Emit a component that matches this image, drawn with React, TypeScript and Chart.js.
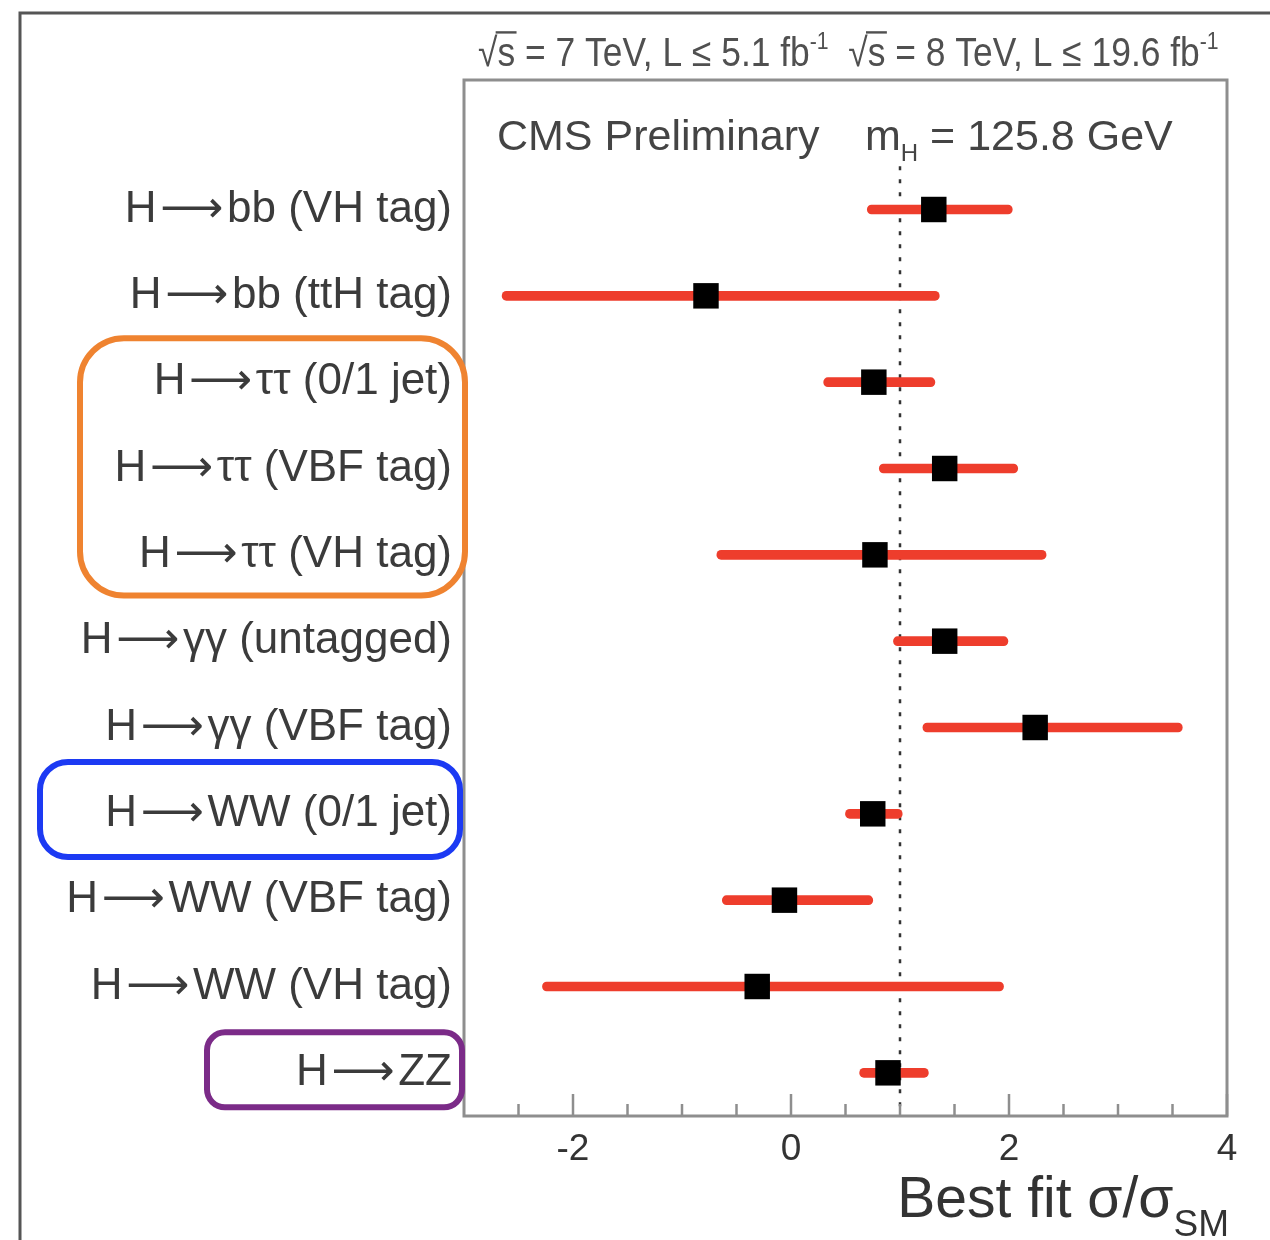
import React, { useEffect, useRef } from 'react';
import { Chart, registerables } from 'chart.js';

Chart.register(...registerables);

// ---------- data ----------
const CATEGORIES = [
  'H\u200A⟶\u200Abb (VH tag)',
  'H\u200A⟶\u200Abb (ttH tag)',
  'H\u200A⟶\u200Aττ (0/1 jet)',
  'H\u200A⟶\u200Aττ (VBF tag)',
  'H\u200A⟶\u200Aττ (VH tag)',
  'H\u200A⟶\u200Aγγ (untagged)',
  'H\u200A⟶\u200Aγγ (VBF tag)',
  'H\u200A⟶\u200AWW (0/1 jet)',
  'H\u200A⟶\u200AWW (VBF tag)',
  'H\u200A⟶\u200AWW (VH tag)',
  'H\u200A⟶\u200AZZ',
];
const BEST_FIT = [1.31, -0.78, 0.76, 1.41, 0.77, 1.41, 2.24, 0.75, -0.06, -0.31, 0.89];
const ERR_LOW = [0.7, -2.65, 0.3, 0.81, -0.68, 0.94, 1.21, 0.5, -0.63, -2.28, 0.63];
const ERR_HIGH = [2.03, 1.36, 1.32, 2.08, 2.34, 1.99, 3.59, 1.02, 0.75, 1.95, 1.26];
const SM_REFERENCE = 1;
const X_MIN = -3;
const X_MAX = 4;
const X_LABELED_TICKS = [-2, 0, 2, 4];
const X_MINOR_TICKS = [-2.5, -1.5, -1, -0.5, 0.5, 1, 1.5, 2.5, 3, 3.5];

// highlighted groups of rows (first row index, last row index)
const HIGHLIGHT_ROWS = [
  [2, 4],
  [7, 7],
  [10, 10],
];

// ---------- styles ----------
const FONT = "'Liberation Sans', 'DejaVu Sans', Arial, Helvetica, sans-serif";
const TEXT_COLOR = '#3b3b3b';
const BAR_COLOR = '#ee3d2c';
const HIGHLIGHT_STYLE = [
  { color: '#ef8330', left: 80, right: 465, padTop: 0.51, padBottom: 0.47, radius: 44 },
  { color: '#1c3af3', left: 40, right: 460, padTop: 0.6, padBottom: 0.5, radius: 28 },
  { color: '#7b2b88', left: 207, right: 462, padTop: 0.47, padBottom: 0.4, radius: 18 },
];

type Seg = { t: string; size: number; dy?: number; over?: boolean };

function drawRich(
  ctx: CanvasRenderingContext2D,
  x: number,
  y: number,
  segs: Seg[],
  align: 'left' | 'right'
) {
  const widths = segs.map((s) => {
    ctx.font = `${s.size}px ${FONT}`;
    return ctx.measureText(s.t).width;
  });
  const total = widths.reduce((a, b) => a + b, 0);
  let cx = align === 'right' ? x - total : x;
  ctx.textAlign = 'left';
  ctx.textBaseline = 'alphabetic';
  segs.forEach((s, i) => {
    ctx.font = `${s.size}px ${FONT}`;
    ctx.fillText(s.t, cx, y + (s.dy || 0));
    if (s.over) {
      ctx.save();
      ctx.lineWidth = s.size * 0.06;
      ctx.strokeStyle = ctx.fillStyle as string;
      ctx.beginPath();
      ctx.moveTo(cx - s.size * 0.05, y - s.size * 0.84);
      ctx.lineTo(cx + widths[i] + s.size * 0.04, y - s.size * 0.84);
      ctx.stroke();
      ctx.restore();
    }
    cx += widths[i];
  });
}

const decorPlugin = {
  id: 'decor',
  afterDraw(chart: any) {
    const { ctx, chartArea: a, scales } = chart;
    const xs = scales.x;
    const ys = scales.y;
    ctx.save();

    // outer frame (top and left edges)
    ctx.strokeStyle = '#555555';
    ctx.lineWidth = 3;
    ctx.beginPath();
    ctx.moveTo(20, chart.height);
    ctx.lineTo(20, 13);
    ctx.lineTo(chart.width, 13);
    ctx.stroke();

    // plot frame
    ctx.strokeStyle = '#8e8e8e';
    ctx.lineWidth = 3;
    ctx.strokeRect(a.left, a.top, a.right - a.left, a.bottom - a.top);

    // inward ticks on the x axis
    ctx.lineWidth = 2.5;
    const tick = (v: number, len: number) => {
      const px = xs.getPixelForValue(v);
      ctx.beginPath();
      ctx.moveTo(px, a.bottom);
      ctx.lineTo(px, a.bottom - len);
      ctx.stroke();
    };
    X_LABELED_TICKS.forEach((v) => tick(v, 22));
    X_MINOR_TICKS.forEach((v) => tick(v, 12));

    // highlight boxes
    HIGHLIGHT_ROWS.forEach(([r0, r1], i) => {
      const st = HIGHLIGHT_STYLE[i];
      const top = ys.getPixelForValue(r0 - st.padTop);
      const bottom = ys.getPixelForValue(r1 + st.padBottom);
      ctx.strokeStyle = st.color;
      ctx.lineWidth = 6;
      ctx.beginPath();
      (ctx as any).roundRect(st.left, top, st.right - st.left, bottom - top, st.radius);
      ctx.stroke();
    });

    // header
    ctx.fillStyle = '#505050';
    ctx.save();
    ctx.translate(a.left + 14, a.top - 14);
    ctx.scale(0.885, 1);
    drawRich(
      ctx,
      0,
      0,
      [
        { t: '√', size: 40 },
        { t: 's', size: 40, over: true },
        { t: ' = 7 TeV, L ≤ 5.1 fb', size: 40 },
        { t: '-1', size: 24, dy: -17 },
        { t: '  √', size: 40 },
        { t: 's', size: 40, over: true },
        { t: ' = 8 TeV, L ≤ 19.6 fb', size: 40 },
        { t: '-1', size: 24, dy: -17 },
      ],
      'left'
    );
    ctx.restore();

    // in-plot texts
    ctx.fillStyle = '#444444';
    drawRich(ctx, a.left + 33, a.top + 70, [{ t: 'CMS Preliminary', size: 43 }], 'left');
    drawRich(
      ctx,
      a.left + 401,
      a.top + 70,
      [
        { t: 'm', size: 43 },
        { t: 'H', size: 24, dy: 11 },
        { t: ' = 125.8 GeV', size: 43 },
      ],
      'left'
    );

    // x-axis title
    ctx.fillStyle = '#333333';
    drawRich(
      ctx,
      a.right + 2,
      a.bottom + 101,
      [
        { t: 'Best fit σ/σ', size: 57 },
        { t: 'SM', size: 37, dy: 19 },
      ],
      'right'
    );

    ctx.restore();
  },
};

export default function App() {
  const ref = useRef<HTMLCanvasElement>(null);

  useEffect(() => {
    document.body.style.margin = '0';
    const barData = CATEGORIES.map((_, i) => ({ x: [ERR_LOW[i], ERR_HIGH[i]], y: i }));
    const pointData = CATEGORIES.map((_, i) => ({ x: BEST_FIT[i], y: i }));
    const smLine = [
      { x: SM_REFERENCE, y: -0.5 },
      { x: SM_REFERENCE, y: CATEGORIES.length - 0.5 },
    ];

    const chart = new Chart(ref.current as HTMLCanvasElement, {
      type: 'bar',
      data: {
        datasets: [
          {
            type: 'scatter',
            data: pointData,
            pointStyle: 'rect',
            pointRadius: 18,
            pointHoverRadius: 18,
            backgroundColor: '#000000',
            borderWidth: 0,
            order: 0,
          } as any,
          {
            type: 'bar',
            data: barData,
            backgroundColor: BAR_COLOR,
            barThickness: 9,
            borderRadius: 4.5,
            borderSkipped: false,
            borderWidth: 0,
            order: 1,
          } as any,
          {
            type: 'line',
            data: smLine,
            borderColor: '#333333',
            borderWidth: 2.5,
            borderDash: [4, 9],
            pointRadius: 0,
            fill: false,
            order: 2,
          } as any,
        ],
      },
      options: {
        indexAxis: 'y',
        responsive: false,
        animation: false,
        devicePixelRatio: 1,
        layout: { padding: { top: 80, right: 43, left: 0, bottom: 0 } },
        plugins: {
          legend: { display: false },
          tooltip: { enabled: false },
        },
        scales: {
          x: {
            type: 'linear',
            min: X_MIN,
            max: X_MAX,
            offset: false,
            beginAtZero: false,
            afterBuildTicks: (s: any) => {
              s.ticks = X_LABELED_TICKS.map((v) => ({ value: v }));
            },
            afterFit: (s: any) => {
              s.height = 124;
            },
            ticks: {
              autoSkip: false,
              maxRotation: 0,
              padding: 4,
              color: '#333333',
              font: { family: FONT, size: 37 },
            },
            grid: { display: false },
            border: { display: false },
          },
          y: {
            type: 'linear',
            min: -1.5,
            max: CATEGORIES.length - 0.5,
            reverse: true,
            offset: false,
            beginAtZero: false,
            afterBuildTicks: (s: any) => {
              s.ticks = CATEGORIES.map((_, i) => ({ value: i }));
            },
            afterFit: (s: any) => {
              s.width = 464;
            },
            ticks: {
              autoSkip: false,
              padding: 4,
              color: TEXT_COLOR,
              font: { family: FONT, size: 44 },
              callback: (v: any) => CATEGORIES[v as number] ?? '',
            },
            grid: { display: false },
            border: { display: false },
          },
        },
      } as any,
      plugins: [decorPlugin],
    });
    return () => chart.destroy();
  }, []);

  return (
    <canvas
      ref={ref}
      width={1270}
      height={1240}
      style={{ display: 'block', width: 1270, height: 1240 }}
    />
  );
}
